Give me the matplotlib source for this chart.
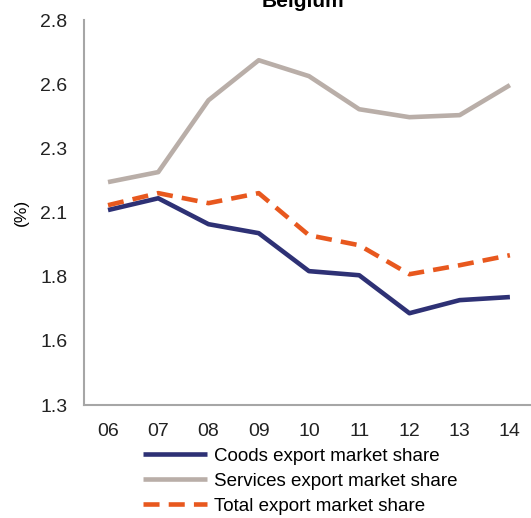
import numpy as np
import matplotlib
matplotlib.use("Agg")
import matplotlib.pyplot as plt

plt.rcParams['font.family'] = ['Liberation Sans', 'DejaVu Sans']

years = ['06', '07', '08', '09', '10', '11', '12', '13', '14']
goods = [2.06, 2.106, 2.005, 1.97, 1.822, 1.806, 1.658, 1.709, 1.721]
services = [2.169, 2.208, 2.488, 2.644, 2.582, 2.453, 2.422, 2.430, 2.547]
total = [2.079, 2.126, 2.087, 2.126, 1.962, 1.923, 1.810, 1.845, 1.884]

y_ticks = [1.3, 1.55, 1.8, 2.05, 2.3, 2.55, 2.8]
y_labels = ['1.3', '1.6', '1.8', '2.1', '2.3', '2.6', '2.8']

fig = plt.figure(figsize=(5.31, 5.18), dpi=100)
ax = fig.add_axes([0.158, 0.218, 0.842, 0.743])

x = np.arange(len(years)) + 6
ax.plot(x, goods, color='#2E3175', lw=3.3, label='Coods export market share',
        solid_capstyle='butt')
ax.plot(x, services, color='#B9AEA8', lw=3.3, label='Services export market share',
        solid_capstyle='butt')
ax.plot(x, total, color='#E8581E', lw=3.3, ls=(0, (3.5, 2)), label='Total export market share')

ax.set_xlim(5.52, 14.42)
ax.set_ylim(1.3, 2.8)
ax.set_xticks(x)
ax.set_xticklabels(years)
ax.set_yticks(y_ticks)
ax.set_yticklabels(y_labels)
ax.tick_params(length=0, labelsize=14, colors='#222222', pad=13)
ax.tick_params(axis='y', pad=12)

for side in ['top', 'right']:
    ax.spines[side].set_visible(False)
for side in ['left', 'bottom']:
    ax.spines[side].set_color('#A6A6A6')
    ax.spines[side].set_linewidth(1.5)

ax.set_ylabel('(%)', fontsize=12.5)
ax.yaxis.set_label_coords(-0.123, 0.5)
fig.text(0.57, 0.997, 'Belgium', ha='center', va='center', fontsize=15, fontweight='bold')

fig.legend(loc='upper left', bbox_to_anchor=(0.255, 0.15), frameon=False,
           fontsize=13.5, handlelength=3.4, handletextpad=0.37, labelspacing=0.42,
           borderaxespad=0)

fig.savefig('out.png', dpi=100)
